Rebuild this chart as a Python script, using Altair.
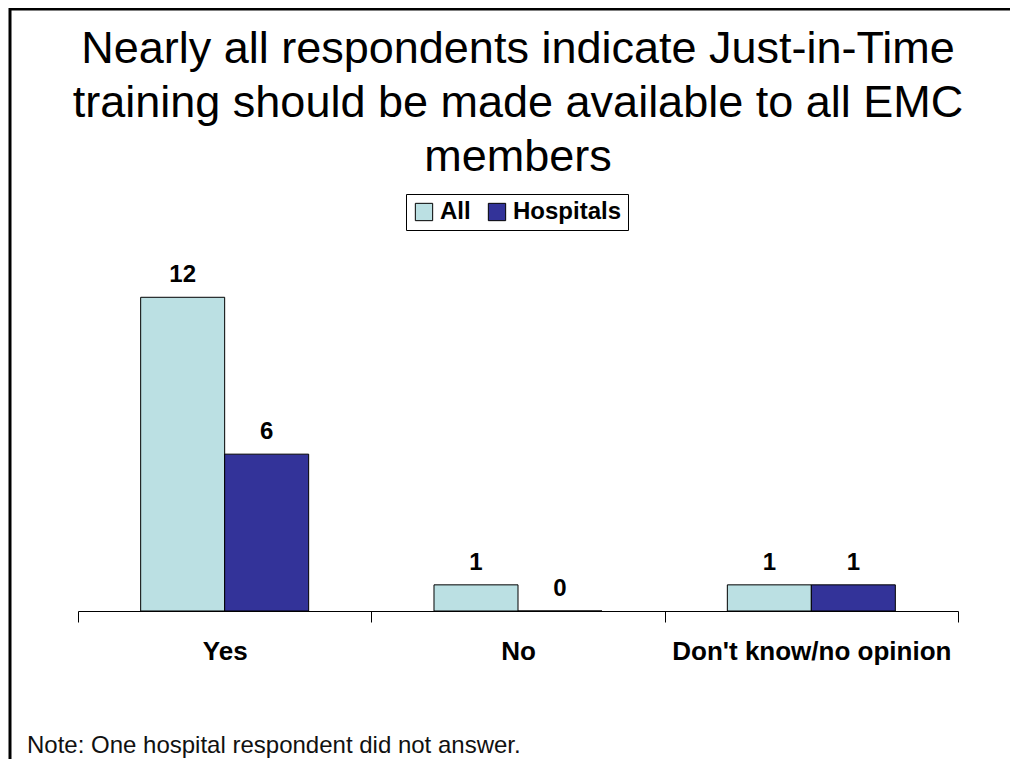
import altair as alt
import pandas as pd

categories = ["Yes", "No", "Don't know/no opinion"]
series = ["All", "Hospitals"]
all_values = [12, 1, 1]
hospital_values = [6, 0, 1]
colors = ["#BBE0E3", "#333399"]
title_lines = ["Nearly all respondents indicate Just-in-Time",
               "training should be made available to all EMC",
               "members"]
note_text = "Note: One hospital respondent did not answer."

rows = []
for c, a, h in zip(categories, all_values, hospital_values):
    rows.append({"category": c, "series": "All", "value": a})
    rows.append({"category": c, "series": "Hospitals", "value": h})
df = pd.DataFrame(rows)

FONT = "Liberation Sans"

x = alt.X("category:N", sort=categories,
          scale=alt.Scale(paddingInner=0, paddingOuter=0),
          axis=alt.Axis(title=None, labelAngle=0, tickBand="extent",
                        domainColor="black", tickColor="black", tickSize=11,
                        domainWidth=1, tickWidth=1, labelLimit=0,
                        labelFont=FONT, labelFontWeight="bold", labelFontSize=26,
                        labelColor="black", labelPadding=16, grid=False))
xo = alt.XOffset("series:N", sort=series,
                 scale=alt.Scale(paddingOuter=0.746, paddingInner=0))
y = alt.Y("value:Q", scale=alt.Scale(domain=[0, 14]), axis=None)

base = alt.Chart(df)
bars = base.mark_bar(stroke="black", strokeWidth=1).encode(
    x=x, xOffset=xo, y=y,
    color=alt.Color("series:N", sort=series,
                    scale=alt.Scale(domain=series, range=colors),
                    legend=alt.Legend(title=None, orient="none", direction="horizontal",
                                      legendX=328, legendY=-51,
                                      strokeColor="black", fillColor="white",
                                      padding=6, symbolType="square", symbolSize=300,
                                      symbolStrokeColor="black", symbolStrokeWidth=1,
                                      symbolOpacity=1,
                                      labelFont=FONT, labelFontWeight="bold",
                                      labelFontSize=24, labelColor="black",
                                      labelOffset=4, columnPadding=14)),
)
labels = base.mark_text(font=FONT, fontWeight="bold", fontSize=24, color="black",
                        baseline="middle", dy=-22).encode(
    x=x, xOffset=xo, y=y, text=alt.Text("value:Q"))

note = alt.Chart(pd.DataFrame({"note": [note_text]})).mark_text(
    font=FONT, fontSize=24, color="#111111", align="left", baseline="middle").encode(
    x=alt.value(-51), y=alt.value(501), text="note:N")

frame_top = alt.Chart(pd.DataFrame({"a": [0]})).mark_rule(color="black", strokeWidth=3).encode(
    x=alt.value(-69), x2=alt.value(940), y=alt.value(-236))
frame_left = alt.Chart(pd.DataFrame({"a": [0]})).mark_rule(color="black", strokeWidth=3).encode(
    x=alt.value(-68), y=alt.value(-237), y2=alt.value(520))

chart = alt.layer(bars, labels, note, frame_top, frame_left).properties(
    width=880, height=366,
    padding={"left": 70, "top": 237, "right": 52, "bottom": 148},
    autosize=alt.AutoSizeParams(type="none"),
    title=alt.TitleParams(text=title_lines, font=FONT, fontSize=45, fontWeight="normal",
                          color="black", lineHeight=54, anchor="middle", frame="group",
                          offset=-173),
).configure(background="white", view=alt.ViewConfig(stroke=None))

chart.save("out.html", embed_options={"renderer": "svg", "actions": False})
